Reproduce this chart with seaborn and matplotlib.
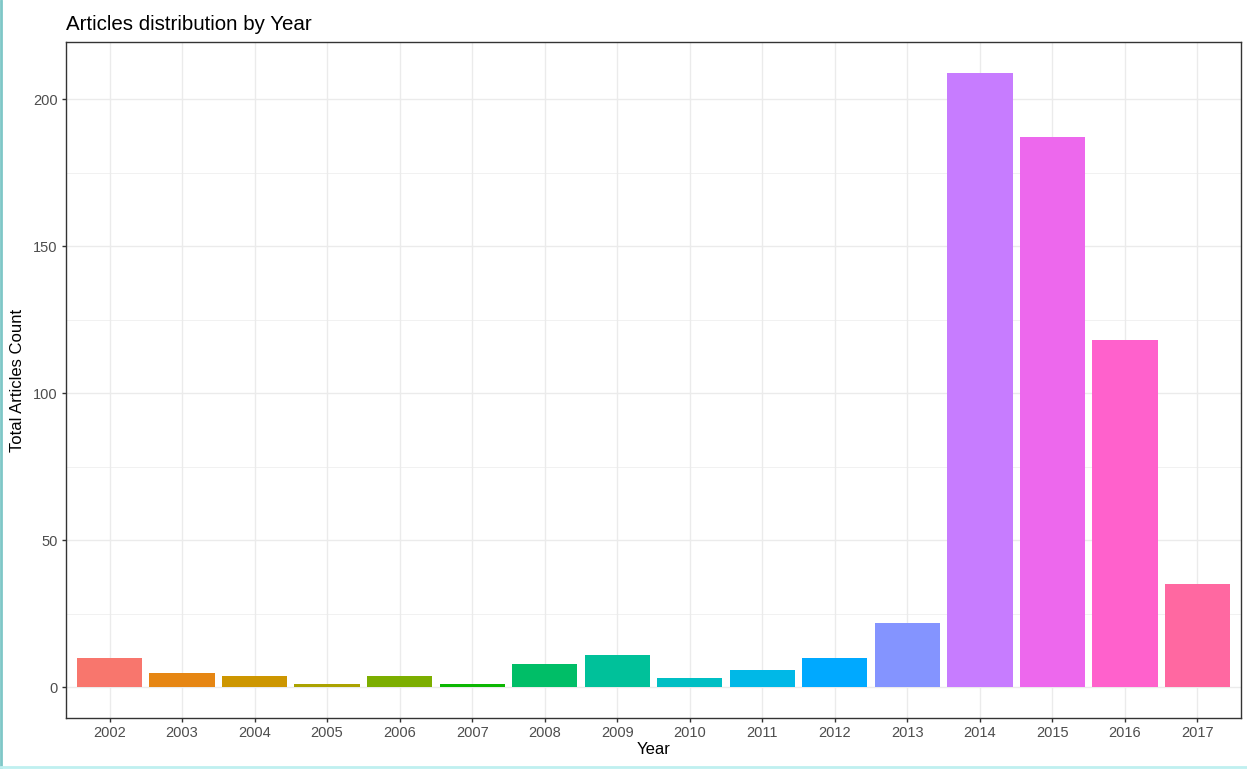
import matplotlib
matplotlib.use("Agg")
import matplotlib.pyplot as plt
import seaborn as sns
import pandas as pd
from matplotlib.lines import Line2D

years = ["2002", "2003", "2004", "2005", "2006", "2007", "2008", "2009",
         "2010", "2011", "2012", "2013", "2014", "2015", "2016", "2017"]
counts = [10, 5, 4, 1, 4, 1, 8, 11, 3, 6, 10, 22, 209, 187, 118, 35]
hue_colors = ["#F8766D", "#E68613", "#CD9600", "#ABA300", "#7CAE00", "#0CB702",
              "#00BE67", "#00C19A", "#00BFC4", "#00B8E7", "#00A9FF", "#8494FF",
              "#C77CFF", "#ED68ED", "#FF61CC", "#FF68A1"]

df = pd.DataFrame({"Year": years, "Count": counts})

sns.set_theme(style="whitegrid")
plt.rcParams["font.family"] = ["Liberation Sans", "DejaVu Sans"]

fig = plt.figure(figsize=(12.47, 7.69), dpi=100)
ax = fig.add_axes([66 / 1247, 1 - 718 / 769, (1241 - 66) / 1247, (718 - 42) / 769])

sns.barplot(data=df, x="Year", y="Count", hue="Year", palette=hue_colors,
            legend=False, width=0.9, saturation=1, linewidth=0, ax=ax, zorder=3)

ax.set_xlim(-0.6, 15.6)
ax.set_ylim(-10.45, 219.45)
ax.set_yticks([0, 50, 100, 150, 200])
ax.set_yticks([25, 75, 125, 175], minor=True)

ax.grid(True, which="major", color="#EBEBEB", linewidth=1.0, zorder=0)
ax.grid(True, which="minor", axis="y", color="#EBEBEB", linewidth=0.5, zorder=0)
ax.set_axisbelow(True)
for s in ax.spines.values():
    s.set_color("#333333")
    s.set_linewidth(1.0)
    s.set_visible(True)

ax.tick_params(axis="both", which="major", bottom=True, left=True, length=3,
               width=1, color="#333333", labelsize=10.5, labelcolor="#4D4D4D", pad=3)
ax.tick_params(axis="both", which="minor", length=0)

ax.set_xlabel("Year", fontsize=12, color="black", labelpad=1)
ax.set_ylabel("Total Articles Count", fontsize=12, color="black", labelpad=6)
ax.set_title("Articles distribution by Year", fontsize=14.8, color="black",
             loc="left", pad=9)

# thin frame lines at the image edges
fig.add_artist(Line2D([0.001, 0.001], [0, 1], color="#7FC7C7", linewidth=2,
                      transform=fig.transFigure))
fig.add_artist(Line2D([0, 1], [0.002, 0.002], color="#BFF0F0", linewidth=2,
                      transform=fig.transFigure))

fig.savefig("out.png", dpi=100)
